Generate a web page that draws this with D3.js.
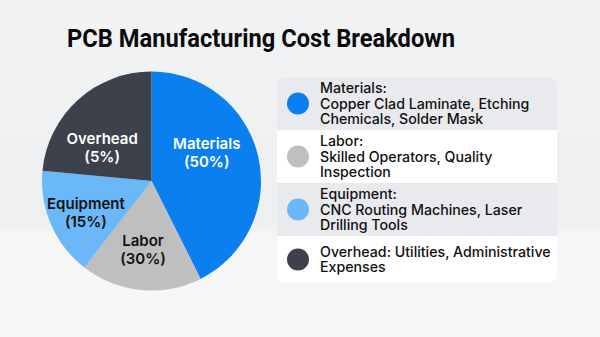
<!DOCTYPE html>
<html><head><meta charset="utf-8">
<script src="https://cdn.jsdelivr.net/npm/d3@7/dist/d3.min.js"></script>
<style>html,body{margin:0;padding:0;width:600px;height:337px;overflow:hidden;}</style>
</head><body>
<svg id="c" width="600" height="337"></svg>
<script>
// Data
const categories = ["Materials", "Labor", "Equipment", "Overhead"];
const percentLabels = ["50%", "30%", "15%", "5%"];
// slice shares as drawn in the picture
const sliceValues = [42.6, 17.9, 16.0, 23.5];
const legendLines = [
  ["Materials:", "Copper Clad Laminate, Etching", "Chemicals, Solder Mask"],
  ["Labor:", "Skilled Operators, Quality", "Inspection"],
  ["Equipment:", "CNC Routing Machines, Laser", "Drilling Tools"],
  ["Overhead: Utilities, Administrative", "Expenses"]
];
const colors = ["#0a7ff0", "#bfbfc0", "#6ab8f7", "#3c414c"];
const labelColors = ["#ffffff", "#111111", "#111111", "#ffffff"];

const svg = d3.select("#c");
const defs = svg.append("defs");
const g = defs.append("linearGradient").attr("id","bg").attr("x1",0).attr("y1",0).attr("x2",0).attr("y2",1);
g.append("stop").attr("offset","0%").attr("stop-color","#f2f3f4");
g.append("stop").attr("offset","66%").attr("stop-color","#eeeff1");
g.append("stop").attr("offset","70%").attr("stop-color","#f6f6f6");
g.append("stop").attr("offset","100%").attr("stop-color","#f7f7f7");
svg.append("rect").attr("width",600).attr("height",337).attr("fill","url(#bg)");

svg.append("text").attr("x",67).attr("y",47)
  .attr("font-family","Roboto, Inter, sans-serif").attr("font-weight",700)
  .attr("font-size",26.5).attr("fill","#0a0a0a")
  .attr("textLength",388).attr("lengthAdjust","spacingAndGlyphs")
  .text("PCB Manufacturing Cost Breakdown");

// Pie
const cx = 151.5, cy = 181, R = 109.5;
const pie = d3.pie().sort(null).value(d => d);
const arcs = pie(sliceValues);
const arc = d3.arc().innerRadius(0).outerRadius(R);
const pg = svg.append("g").attr("transform",`translate(${cx},${cy})`);
pg.selectAll("path").data(arcs).enter().append("path")
  .attr("d", arc).attr("fill", (d,i)=>colors[i]);

// label placement (angle in degrees clockwise from top, radius)
const labelPolar = [[63, 62], [187, 69.5], [244, 73], [304, 59.5]];
arcs.forEach((a,i)=>{
  const [x,y] = d3.pointRadial(labelPolar[i][0]*Math.PI/180, labelPolar[i][1]);
  const t = pg.append("text").attr("text-anchor","middle")
    .attr("font-family","Inter, 'Noto Sans', sans-serif").attr("font-weight",600)
    .attr("font-size",15).attr("fill",labelColors[i]);
  t.append("tspan").attr("x",x).attr("y",y-4).text(categories[i]);
  t.append("tspan").attr("x",x).attr("y",y+14).text("("+percentLabels[i]+")");
});

// Legend
const lx = 277, ly = 77, lw = 280;
const rowH = [53, 53, 53, 47];
defs.append("clipPath").attr("id","lc").append("rect")
  .attr("x",lx).attr("y",ly).attr("width",lw).attr("height",d3.sum(rowH)).attr("rx",9);
const lg = svg.append("g").attr("clip-path","url(#lc)");
let yy = ly;
legendLines.forEach((lines,i)=>{
  lg.append("rect").attr("x",lx).attr("y",yy).attr("width",lw).attr("height",rowH[i])
    .attr("fill", i%2===0 ? "#e8eaed" : "#ffffff");
  const mid = yy + rowH[i]/2;
  svg.append("circle").attr("cx",298).attr("cy",mid).attr("r",11).attr("fill",colors[i]);
  const n = lines.length;
  const t = svg.append("text").attr("font-family","Inter, 'Noto Sans', sans-serif")
    .attr("font-weight",500).attr("font-size",14.2).attr("fill","#111");
  lines.forEach((s,j)=>{
    t.append("tspan").attr("x",320).attr("y", mid + 5 + (j-(n-1)/2)*15.2).text(s);
  });
  yy += rowH[i];
});
</script>
</body></html>
